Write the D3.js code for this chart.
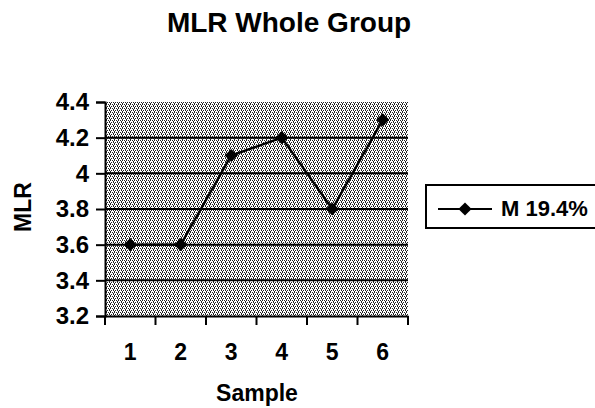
<!DOCTYPE html>
<html><head><meta charset="utf-8">
<script src="https://cdn.jsdelivr.net/npm/d3@7"></script>
<style>
body{margin:0;background:#fff;}
text{font-family:"Liberation Sans",Arial,sans-serif;font-weight:bold;fill:#000;}
</style></head>
<body>
<svg id="c" width="595" height="408"></svg>
<script>
const categories = ["1","2","3","4","5","6"];
const seriesName = "M 19.4%";
const values = [3.6, 3.6, 4.1, 4.2, 3.8, 4.3];
const yTicks = [3.2, 3.4, 3.6, 3.8, 4.0, 4.2, 4.4];

const svg = d3.select("#c");
const L = 105, R = 408, T = 102, B = 316;

const defs = svg.append("defs");
const pat = defs.append("pattern").attr("id","dots").attr("patternUnits","userSpaceOnUse")
  .attr("width",4).attr("height",4);
pat.append("rect").attr("width",4).attr("height",4).attr("fill","#fff");
[[0,0],[2,0],[1,1],[3,2],[1,2],[2,3]].forEach(([x,y])=>
  pat.append("rect").attr("x",x).attr("y",y).attr("width",1).attr("height",1).attr("fill","#222"));

const x = d3.scaleBand().domain(categories).range([L,R]);
const y = d3.scaleLinear().domain([3.2,4.4]).range([B,T]);

svg.append("rect").attr("x",L).attr("y",T).attr("width",R-L).attr("height",B-T)
  .attr("fill","url(#dots)");

// gridlines
svg.append("g").selectAll("line").data(yTicks.slice(1,-1)).join("line")
  .attr("x1",L).attr("x2",R).attr("y1",d=>y(d)).attr("y2",d=>y(d))
  .attr("stroke","#000").attr("stroke-width",2);

// y axis
const ya = svg.append("g").attr("transform",`translate(${L},0)`)
  .call(d3.axisLeft(y).tickValues(yTicks).tickSize(9).tickPadding(7).tickFormat(d=>String(+d.toFixed(1))));
ya.select(".domain").attr("stroke","#000").attr("stroke-width",2);
ya.selectAll(".tick line").attr("stroke","#000").attr("stroke-width",2);
ya.selectAll("text").style("font-size","24px").style("font-family","Liberation Sans").style("font-weight","bold").attr("fill","#000");

// x axis
const xa = svg.append("g").attr("transform",`translate(0,${B})`)
  .call(d3.axisBottom(x).tickSize(0).tickPadding(28));
xa.select(".domain").attr("stroke","#000").attr("stroke-width",2);
xa.selectAll("text").style("font-size","23px").style("font-family","Liberation Sans").style("font-weight","bold").attr("fill","#000");
const bounds = categories.map(c=>x(c)).concat([R]);
svg.append("g").selectAll("line").data(bounds).join("line")
  .attr("x1",d=>d).attr("x2",d=>d).attr("y1",B).attr("y2",B+9)
  .attr("stroke","#000").attr("stroke-width",2);

// line
const line = d3.line().x((d,i)=>x(categories[i])+x.bandwidth()/2).y(d=>y(d));
svg.append("path").datum(values).attr("d",line).attr("fill","none")
  .attr("stroke","#000").attr("stroke-width",2.4);
svg.append("g").selectAll("path").data(values).join("path")
  .attr("d",d3.symbol(d3.symbolDiamond2,110))
  .attr("transform",(d,i)=>`translate(${x(categories[i])+x.bandwidth()/2},${y(d)})`)
  .attr("fill","#000");

// title & labels
svg.append("text").attr("x",289).attr("y",32).attr("text-anchor","middle")
  .style("font-size","28px").text("MLR Whole Group");
svg.append("text").attr("transform","translate(31,207) rotate(-90)").attr("text-anchor","middle")
  .style("font-size","23px").text("MLR");
svg.append("text").attr("x",257).attr("y",401).attr("text-anchor","middle")
  .style("font-size","23px").text("Sample");

// legend
const lg = svg.append("g");
lg.append("rect").attr("x",426).attr("y",185).attr("width",170).attr("height",43)
  .attr("fill","#fff").attr("stroke","#000").attr("stroke-width",2);
lg.append("line").attr("x1",438).attr("x2",492).attr("y1",209).attr("y2",209)
  .attr("stroke","#000").attr("stroke-width",2);
lg.append("path").attr("d",d3.symbol(d3.symbolDiamond2,110))
  .attr("transform","translate(465,209)").attr("fill","#000");
lg.append("text").attr("x",501).attr("y",216).style("font-size","22px").text(seriesName);
</script>
</body></html>
